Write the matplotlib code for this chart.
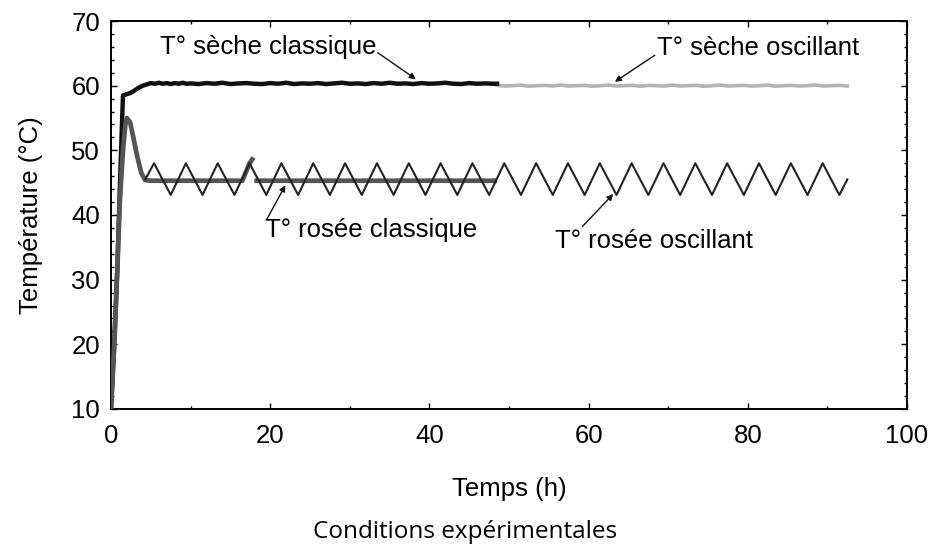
import matplotlib.pyplot as plt
from matplotlib.ticker import MultipleLocator
import numpy as np

# --- data ---
# T° sèche classique (black, noisy)
seche_cl_t = [0.0, 0.4, 0.8, 1.1, 1.4, 1.5, 2.0, 2.5, 3.0, 3.5, 4.0, 4.5, 5.0,
              5.5, 6, 6.5, 7, 7.5, 8, 8.5, 9, 9.5, 10, 11, 12, 13, 14, 15, 16, 17,
              18, 19, 20, 21, 22, 23, 24, 25, 26, 27, 28, 29, 30, 31, 32, 33, 34,
              35, 36, 37, 38, 39, 40, 41, 42, 43, 44, 45, 46, 47, 48, 48.5]
seche_cl_v = [10.0, 20.0, 32.0, 44.0, 55.0, 58.5, 58.7, 58.9, 59.3, 59.7, 60.0, 60.2, 60.4,
              60.3, 60.45, 60.3, 60.4, 60.25, 60.4, 60.3, 60.45, 60.3, 60.35,
              60.25, 60.4, 60.3, 60.45, 60.25, 60.35, 60.4, 60.3, 60.25, 60.4,
              60.3, 60.45, 60.25, 60.35, 60.3, 60.4, 60.25, 60.35, 60.45, 60.3,
              60.35, 60.25, 60.4, 60.3, 60.45, 60.3, 60.35, 60.25, 60.4, 60.3,
              60.35, 60.45, 60.3, 60.25, 60.4, 60.3, 60.35, 60.3, 60.3]

# T° sèche oscillant (light grey, noisy)
seche_osc_t = [48.5, 49.5, 50.5, 51.5, 52.5, 53.5, 54.5, 55.5, 56.5, 57.5, 58.5,
               59.5, 60.5, 61.5, 62.5, 63.5, 64.5, 65.5, 66.5, 67.5, 68.5, 69.5,
               70.5, 71.5, 72.5, 73.5, 74.5, 75.5, 76.5, 77.5, 78.5, 79.5, 80.5,
               81.5, 82.5, 83.5, 84.5, 85.5, 86.5, 87.5, 88.5, 89.5, 90.5, 91.5, 92.5]
seche_osc_v = [60.05, 59.95, 60.0, 60.1, 59.9, 60.0, 60.05, 59.95, 60.1, 59.95, 60.0,
               60.05, 59.9, 60.0, 60.1, 59.95, 60.0, 60.05, 59.9, 60.05, 60.0, 59.95,
               60.1, 59.95, 60.0, 60.05, 59.9, 60.0, 60.1, 59.95, 60.0, 60.05, 59.95,
               60.0, 60.1, 59.9, 60.0, 60.05, 59.95, 60.0, 60.1, 59.95, 60.0, 60.05, 59.95]

# T° rosée classique (thick dark grey)
rosee_cl_t = [0.0, 0.4, 0.8, 1.1, 1.5, 1.8, 2.0, 2.4, 2.8, 3.3, 3.8, 4.3, 5.0,
              16.5, 16.9, 17.4, 17.9, 17.95, 18.0, 48.5]
rosee_cl_v = [10.0, 20.0, 32.0, 42.0, 50.0, 54.0, 55.0, 54.3, 52.0, 49.0, 46.5, 45.4, 45.3,
              45.3, 46.5, 48.0, 48.9, np.nan, 45.3, 45.3]

# T° rosée oscillant (thin black, triangle)
rosee_osc_t = [4.3, 5.4, 7.5, 9.4, 11.5, 13.4, 15.5, 17.4, 19.5, 21.4, 23.5,
               25.4, 27.5, 29.4, 31.5, 33.4, 35.5, 37.4, 39.5, 41.4, 43.5, 45.4,
               47.5, 49.4, 51.5, 53.4, 55.5, 57.4, 59.5, 61.4, 63.5, 65.4, 67.5,
               69.4, 71.5, 73.4, 75.5, 77.4, 79.5, 81.4, 83.5, 85.4, 87.5, 89.4,
               91.5, 92.5]
rosee_osc_v = [45.5, 48.0, 43.1, 48.0, 43.1, 48.0, 43.1, 48.0, 43.1, 48.0, 43.1,
               48.0, 43.1, 48.0, 43.1, 48.0, 43.1, 48.0, 43.1, 48.0, 43.1, 48.0,
               43.1, 48.0, 43.1, 48.0, 43.1, 48.0, 43.1, 48.0, 43.1, 48.0, 43.1,
               48.0, 43.1, 48.0, 43.1, 48.0, 43.1, 48.0, 43.1, 48.0, 43.1, 48.0,
               43.1, 45.5]

plt.rcParams['font.family'] = ['Liberation Sans', 'DejaVu Sans']

fig = plt.figure(figsize=(9.3, 5.47), dpi=100)
ax = fig.add_axes([0.1194, 0.2523, 0.8559, 0.7093])

ax.plot(seche_osc_t, seche_osc_v, color='#b4b4b4', lw=2.6, zorder=2)
ax.plot(seche_cl_t, seche_cl_v, color='#111111', lw=3.2, zorder=3)
ax.plot(rosee_cl_t, rosee_cl_v, color='#555555', lw=3.4, zorder=3,
        solid_capstyle='butt')
ax.plot(rosee_osc_t, rosee_osc_v, color='#222222', lw=1.5, zorder=4)

ax.set_xlim(0, 100)
ax.set_ylim(10, 70)
ax.xaxis.set_major_locator(MultipleLocator(20))
ax.xaxis.set_minor_locator(MultipleLocator(10))
ax.yaxis.set_major_locator(MultipleLocator(10))
ax.yaxis.set_minor_locator(MultipleLocator(2))
ax.tick_params(which='both', direction='in', top=True, right=True,
               labelsize=18.5, width=1)
ax.tick_params(axis='x', pad=11)
ax.tick_params(axis='y', pad=8)
ax.tick_params(which='major', length=4)
ax.tick_params(which='minor', length=2.5)
for s in ax.spines.values():
    s.set_linewidth(1.4)

ax.set_xlabel('Temps (h)', fontsize=18.5, labelpad=20.5)
ax.set_ylabel('Température (°C)', fontsize=18.5, labelpad=20.5)

box = dict(facecolor='white', edgecolor='none', pad=1)
arr = dict(arrowstyle='-|>', color='#111111', lw=1.0, mutation_scale=9,
           shrinkA=0, shrinkB=0)

ax.text(6.2, 66.0, 'T° sèche classique', fontsize=18.5, va='center', bbox=box, zorder=5)
ax.annotate('', xy=(38.3, 61.0), xytext=(33.5, 65.1), arrowprops=arr, zorder=6)

ax.text(68.6, 65.8, 'T° sèche oscillant', fontsize=18.5, va='center', bbox=box, zorder=5)
ax.annotate('', xy=(63.3, 60.6), xytext=(68.3, 64.7), arrowprops=arr, zorder=6)

ax.text(19.3, 37.7, 'T° rosée classique', fontsize=18.5, va='center', bbox=box, zorder=5)
ax.annotate('', xy=(21.9, 44.6), xytext=(19.6, 39.4), arrowprops=arr, zorder=6)

ax.text(55.8, 36.0, 'T° rosée oscillant', fontsize=18.5, va='center', bbox=box, zorder=5)
ax.annotate('', xy=(63.1, 43.25), xytext=(59.2, 38.2), arrowprops=arr, zorder=6)

fig.text(0.5, 0.027, 'Conditions expérimentales', fontsize=17.5,
         family=['Open Sans', 'DejaVu Sans'], ha='center', va='center')

fig.savefig('out.png', dpi=100)
